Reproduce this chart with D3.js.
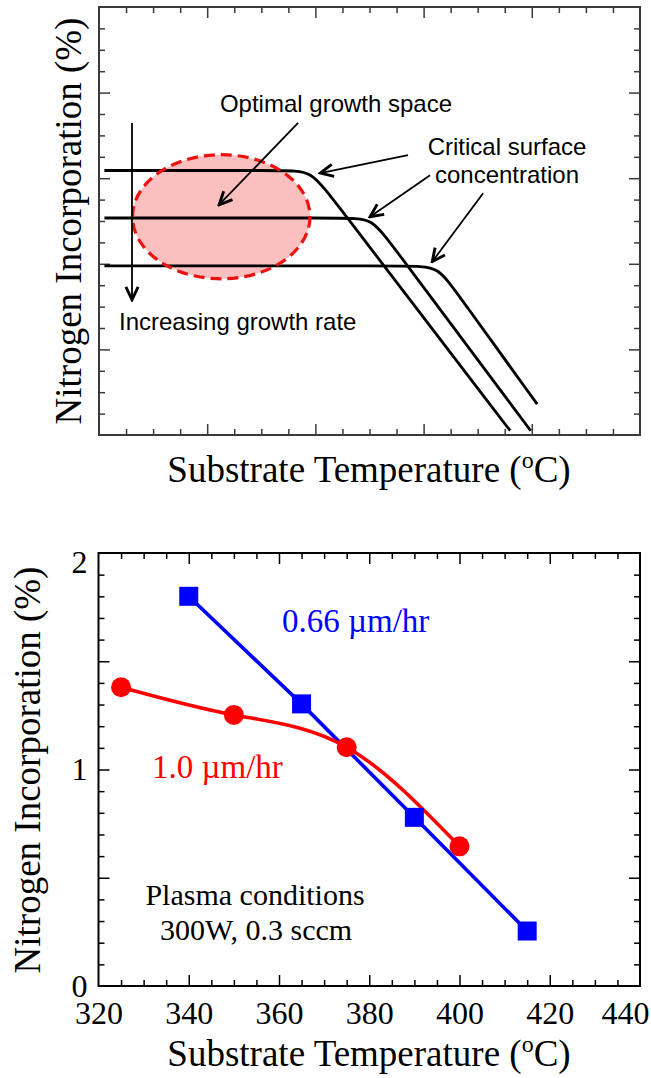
<!DOCTYPE html>
<html>
<head>
<meta charset="utf-8">
<script src="https://cdn.jsdelivr.net/npm/d3@7"></script>
<style>
  body { margin: 0; background: #fff; }
  svg { display: block; }
  .serif { font-family: "Liberation Serif", "Times New Roman", serif; }
  .sans { font-family: "Liberation Sans", Arial, sans-serif; }
</style>
</head>
<body>
<div id="chart"></div>
<script>
// ---- top panel: schematic (arbitrary units, 0..5 on both axes)
const schemCurveHigh = [[0.05, 3.09], [1.72, 3.09], [1.96, 3.09], [2.16, 2.76], [3.80, 0.05]];
const schemCurveMid  = [[0.05, 2.535], [2.30, 2.535], [2.52, 2.535], [2.72, 2.2], [3.99, 0.05]];
const schemCurveLow  = [[0.05, 1.975], [2.91, 1.975], [3.13, 1.975], [3.33, 1.62], [4.05, 0.36]];
const schemCurves = [schemCurveHigh, schemCurveMid, schemCurveLow];

// optimal growth region: centre + radii
const optimalRegion = { cx: 1.13, cy: 2.55, rx: 0.82, ry: 0.725 };

// arrows: [fromX, fromY, toX, toY]
const schemArrows = [
  [0.305, 3.645, 0.305, 1.58],
  [1.84, 3.645, 1.11, 2.69],
  [2.856, 3.27, 2.045, 3.06],
  [3.06, 3.035, 2.505, 2.55],
  [3.55, 2.825, 3.08, 2.025]
];

// ---- bottom panel: measured data
const tempFast = [325, 350, 375, 400];          // 1.0 um/hr
const nFast    = [1.38, 1.252, 1.103, 0.645];
const tempSlow = [340, 365, 390, 415];          // 0.66 um/hr
const nSlow    = [1.80, 1.303, 0.779, 0.254];
const xTickLabels = [320, 340, 360, 380, 400, 420, 440];
const yTickLabels = [0, 1, 2];

const W = 651, H = 1078;
const svg = d3.select("#chart").append("svg")
  .attr("width", W).attr("height", H)
  .attr("viewBox", `0 0 ${W} ${H}`);

// inward ticks on all four sides of a box
function frameTicks(g, x, y, xMinor, xMajor, yMinor, yMajor, color) {
  const [x0, x1] = x.range(), [y0, y1] = y.range();
  const sides = [
    [() => d3.axisBottom(x), `translate(0,${y0})`, xMinor, xMajor],
    [() => d3.axisTop(x), `translate(0,${y1})`, xMinor, xMajor],
    [() => d3.axisLeft(y), `translate(${x0},0)`, yMinor, yMajor],
    [() => d3.axisRight(y), `translate(${x1},0)`, yMinor, yMajor]
  ];
  sides.forEach(([mk, t, minor, major]) => {
    [[minor, 6], [major, 11]].forEach(([vals, len]) => {
      const a = g.append("g").attr("transform", t).style("color", color)
        .call(mk().tickValues(vals).tickSize(-len).tickFormat(""));
      a.select(".domain").remove();
      a.selectAll(".tick line").attr("stroke-width", 1.5);
    });
  });
  g.append("rect")
    .attr("x", x0).attr("y", y1)
    .attr("width", x1 - x0).attr("height", y0 - y1)
    .attr("fill", "none").attr("stroke", color).attr("stroke-width", 2);
}

function xTitle(g, x, yBase) {
  const t = g.append("text").attr("class", "serif")
    .attr("x", x).attr("y", yBase)
    .attr("text-anchor", "middle")
    .attr("font-size", 37)
    .text("Substrate Temperature (");
  t.append("tspan").attr("font-size", 24).attr("dy", -14).text("o");
  t.append("tspan").attr("dy", 14).text("C)");
}

function yTitle(g, xBase, yc) {
  g.append("text").attr("class", "serif")
    .attr("transform", `translate(${xBase},${yc}) rotate(-90)`)
    .attr("text-anchor", "middle")
    .attr("font-size", 37)
    .text("Nitrogen Incorporation (%)");
}

// ================= top panel =================
const topPanel = svg.append("g");
const xs = d3.scaleLinear().domain([0, 5]).range([99, 640]);
const ys = d3.scaleLinear().domain([0, 5]).range([435, 7]);

const schemMinorX = d3.range(0, 21).map(i => i / 4).filter(v => v % 1 !== 0);
const schemMinorY = schemMinorX;
frameTicks(topPanel, xs, ys, schemMinorX, [1, 2, 3, 4], schemMinorY, [1, 2, 3, 4], "#3a3a3a");

// region fill (under curves)
topPanel.append("ellipse")
  .attr("cx", xs(optimalRegion.cx)).attr("cy", ys(optimalRegion.cy))
  .attr("rx", xs(optimalRegion.cx + optimalRegion.rx) - xs(optimalRegion.cx))
  .attr("ry", ys(optimalRegion.cy - optimalRegion.ry) - ys(optimalRegion.cy))
  .attr("fill", "#fcbfbf");

const schemLine = d3.line().x(d => xs(d[0])).y(d => ys(d[1])).curve(d3.curveBasis);
topPanel.selectAll(".schem").data(schemCurves).join("path")
  .attr("class", "schem")
  .attr("d", schemLine)
  .attr("fill", "none").attr("stroke", "#000").attr("stroke-width", 2.8);

// dashed outline on top
topPanel.append("ellipse")
  .attr("cx", xs(optimalRegion.cx)).attr("cy", ys(optimalRegion.cy))
  .attr("rx", xs(optimalRegion.cx + optimalRegion.rx) - xs(optimalRegion.cx))
  .attr("ry", ys(optimalRegion.cy - optimalRegion.ry) - ys(optimalRegion.cy))
  .attr("fill", "none").attr("stroke", "#ee1111")
  .attr("stroke-width", 3.2).attr("stroke-dasharray", "11,6");

svg.append("defs").append("marker")
  .attr("id", "vhead")
  .attr("viewBox", "0 0 10 10")
  .attr("refX", 9).attr("refY", 5)
  .attr("markerUnits", "userSpaceOnUse")
  .attr("markerWidth", 18).attr("markerHeight", 18)
  .attr("orient", "auto")
  .append("path")
  .attr("d", "M1.8,1.6 L9,5 L1.8,8.4")
  .attr("fill", "none").attr("stroke", "#000")
  .attr("stroke-width", 1.6).attr("stroke-linejoin", "miter");

topPanel.selectAll(".arrow").data(schemArrows).join("line")
  .attr("class", "arrow")
  .attr("x1", d => xs(d[0])).attr("y1", d => ys(d[1]))
  .attr("x2", d => xs(d[2])).attr("y2", d => ys(d[3]))
  .attr("stroke", "#000").attr("stroke-width", 1.8)
  .attr("marker-end", "url(#vhead)");

topPanel.append("text").attr("class", "sans").attr("font-size", 24)
  .attr("x", 336).attr("y", 112).attr("text-anchor", "middle")
  .text("Optimal growth space");
topPanel.append("text").attr("class", "sans").attr("font-size", 24)
  .attr("x", 507).attr("y", 155).attr("text-anchor", "middle")
  .text("Critical surface");
topPanel.append("text").attr("class", "sans").attr("font-size", 24)
  .attr("x", 507).attr("y", 183).attr("text-anchor", "middle")
  .text("concentration");
topPanel.append("text").attr("class", "sans").attr("font-size", 24)
  .attr("x", 119).attr("y", 330)
  .text("Increasing growth rate");

xTitle(topPanel, 369, 482);
yTitle(topPanel, 81, 221);

// ================= bottom panel =================
const bot = svg.append("g");
const x = d3.scaleLinear().domain([320, 440]).range([98.5, 640]);
const y = d3.scaleLinear().domain([0, 2]).range([986, 553]);

const xMinor = d3.range(320, 441, 5).filter(v => v % 20 !== 0);
const xMajor = d3.range(340, 421, 20);
const yMinor = d3.range(0, 21).map(i => i / 10).filter(v => Math.round(v * 10) % 5 !== 0);
const yMajor = [0.5, 1, 1.5];
frameTicks(bot, x, y, xMinor, xMajor, yMinor, yMajor, "#000");

// tick labels
const xl = bot.append("g").attr("transform", `translate(0,${y.range()[0]})`)
  .call(d3.axisBottom(x).tickValues(xTickLabels).tickFormat(d3.format("d")).tickSize(0).tickPadding(15));
xl.select(".domain").remove();
xl.selectAll("text").attr("class", "serif").attr("font-size", 32).attr("fill", "#000");
// last label is pulled in so it stays inside the page
xl.selectAll(".tick").filter(d => d === 440).select("text")
  .attr("text-anchor", "end").attr("x", 649 - x(440));

const yl = bot.append("g").attr("transform", `translate(${x.range()[0]},0)`)
  .call(d3.axisLeft(y).tickValues(yTickLabels).tickFormat(d3.format("d")).tickSize(0).tickPadding(11));
yl.select(".domain").remove();
yl.selectAll("text").attr("class", "serif").attr("font-size", 32).attr("fill", "#000");
yl.selectAll(".tick").filter(d => d === 2).select("text").attr("dy", "0.6em");

const slow = tempSlow.map((t, i) => [t, nSlow[i]]);
const fast = tempFast.map((t, i) => [t, nFast[i]]);

bot.append("path").datum(slow)
  .attr("d", d3.line().x(d => x(d[0])).y(d => y(d[1])))
  .attr("fill", "none").attr("stroke", "#0000ff").attr("stroke-width", 3.6);
bot.append("path").datum(fast)
  .attr("d", d3.line().x(d => x(d[0])).y(d => y(d[1])).curve(d3.curveNatural))
  .attr("fill", "none").attr("stroke", "#ff0000").attr("stroke-width", 3.6);

const sq = 19;
bot.selectAll(".sq").data(slow).join("rect")
  .attr("class", "sq")
  .attr("x", d => x(d[0]) - sq / 2).attr("y", d => y(d[1]) - sq / 2)
  .attr("width", sq).attr("height", sq)
  .attr("fill", "#0000ff");
bot.selectAll(".dot").data(fast).join("circle")
  .attr("class", "dot")
  .attr("cx", d => x(d[0])).attr("cy", d => y(d[1]))
  .attr("r", 10).attr("fill", "#ff0000");

bot.append("text").attr("class", "serif").attr("font-size", 33)
  .attr("x", 282).attr("y", 632).attr("fill", "#0000ff")
  .text("0.66 \u00b5m/hr");
bot.append("text").attr("class", "serif").attr("font-size", 33)
  .attr("x", 152).attr("y", 778).attr("fill", "#ff0000")
  .text("1.0 \u00b5m/hr");
bot.append("text").attr("class", "serif").attr("font-size", 30)
  .attr("x", 255).attr("y", 905).attr("text-anchor", "middle")
  .text("Plasma conditions");
bot.append("text").attr("class", "serif").attr("font-size", 30)
  .attr("x", 256).attr("y", 940).attr("text-anchor", "middle")
  .text("300W, 0.3 sccm");

xTitle(bot, 369, 1066);
yTitle(bot, 40, 770);
</script>
</body>
</html>
